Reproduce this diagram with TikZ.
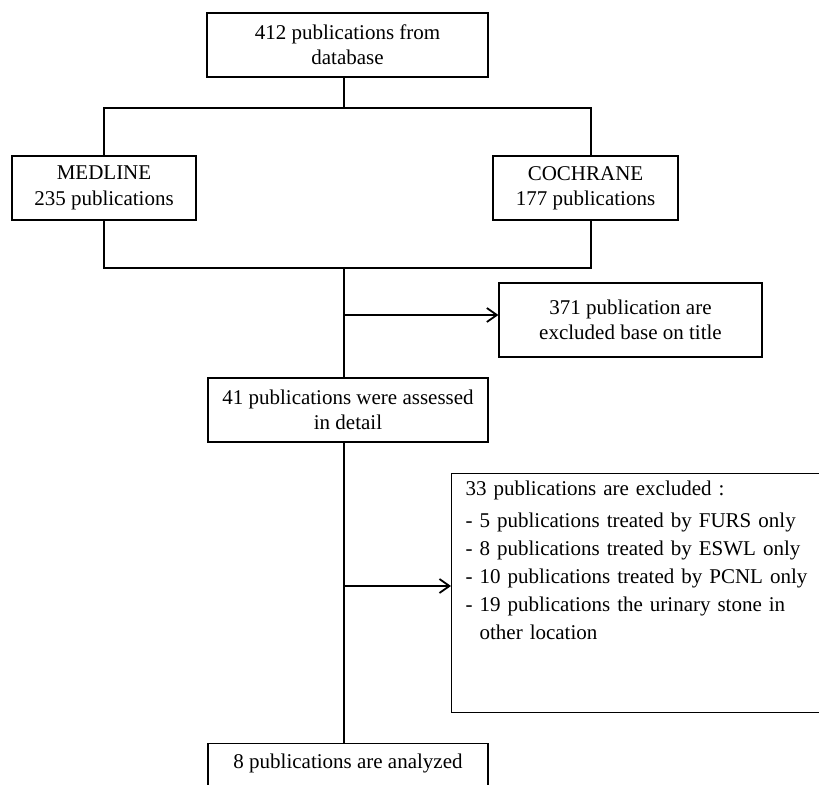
\documentclass[tikz,border=0pt]{standalone}
\usepackage{fontspec}
\setmainfont{Liberation Serif}
\usepackage{tikz}
\usetikzlibrary{arrows.meta,positioning}

\tikzset{
	box/.style={draw, line width=0.6pt, align=center, inner sep=0pt},
	link/.style={line width=0.7pt},
	exarrow/.style={line width=1pt, -{Straight Barb[length=5pt,width=7pt,line width=0.9pt]}}
}

\begin{document}
\begin{tikzpicture}[x=0.5pt, y=-0.5pt, font=\fontsize{10.5}{12.7}\selectfont]
	\clip (0,0) rectangle (819,785);
	\node[box, minimum width=140.5pt, minimum height=32pt] (db) at (347.5,45) {412 publications from\\database};
	\node[box, minimum width=92pt, minimum height=32pt] (medline) at (104,188) {MEDLINE\\235 publications};
	\node[box, minimum width=92.5pt, minimum height=32pt] (cochrane) at (585.5,188) {COCHRANE\\177 publications};
	\node[box, minimum width=131.5pt, minimum height=37pt] (titleex) at (630.5,320) {371 publication are\\excluded base on title};
	\node[box, minimum width=140pt, minimum height=32pt] (assessed) at (348,410) {41 publications were assessed\\in detail};
	\node[box, anchor=north west, align=left, text width=182pt, inner xsep=7pt, inner ysep=3pt, text height=8pt, text depth=105.5pt, font=\fontsize{10.5}{14}\selectfont] (detailex) at (451,473)
		{33 publications are excluded :\\[2pt]
		\makebox[7pt][l]{-}5 publications treated by FURS only\\
		\makebox[7pt][l]{-}8 publications treated by ESWL only\\
		\makebox[7pt][l]{-}10 publications treated by PCNL only\\
		\makebox[7pt][l]{-}19 publications the urinary stone in\\
		\hspace*{7pt}other location};
	\node[box, anchor=north, minimum width=140pt, inner ysep=4pt, text height=8.5pt, text depth=24pt] (analyzed) at (348,743) {8 publications are analyzed};

	% split into the two databases and join again
	\coordinate (splitT) at (344,108);
	\coordinate (splitB) at (344,268);
	\draw[link] (db.south -| splitT) -- (splitT);
	\draw[link] (splitT) -| (medline.north);
	\draw[link] (splitT) -| ([xshift=2.75pt]cochrane.north);
	\draw[link] (medline.south) |- (splitB);
	\draw[link] ([xshift=2.75pt]cochrane.south) |- (splitB);
	\draw[link] (splitB) -- (assessed.north -| splitB);
	\draw[link] (assessed.south -| splitB) -- (analyzed.north -| splitB);

	% exclusions
	\coordinate (branch1) at (344,315);
	\coordinate (branch2) at (344,586);
	\draw[exarrow] (branch1) -- (branch1 -| titleex.west);
	\draw[exarrow] (branch2) -- (branch2 -| detailex.west);
\end{tikzpicture}
\end{document}
